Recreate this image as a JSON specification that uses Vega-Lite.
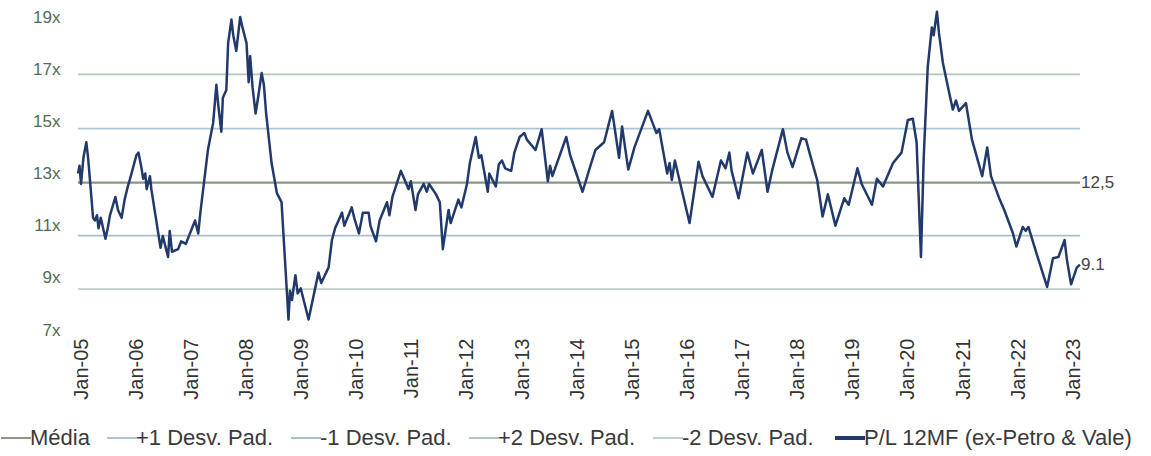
{
  "$schema": "https://vega.github.io/schema/vega-lite/v6.json",
  "width": 1002,
  "height": 313,
  "autosize": "none",
  "padding": {"left": 78, "top": 17, "right": 71, "bottom": 126},
  "background": "white",
  "config": {
    "view": {"stroke": null},
    "font": "Liberation Sans",
    "legend": {
      "orient": "none",
      "legendX": -73,
      "legendY": 410,
      "direction": "horizontal",
      "symbolType": "stroke",
      "symbolSize": 900,
      "symbolStrokeWidth": 2,
      "labelFont": "Liberation Sans",
      "labelFontSize": 22,
      "labelColor": "#3a3a3a",
      "labelOffset": 3,
      "labelLimit": 500,
      "columnPadding": 13,
      "title": null
    }
  },
  "datasets": {
    "bands": [
      {"series": "Média", "date": "2004-12-10", "value": 12.65},
      {"series": "Média", "date": "2023-02-15", "value": 12.65},
      {"series": "+1 Desv. Pad.", "date": "2004-12-10", "value": 14.72},
      {"series": "+1 Desv. Pad.", "date": "2023-02-15", "value": 14.72},
      {"series": "-1 Desv. Pad.", "date": "2004-12-10", "value": 10.62},
      {"series": "-1 Desv. Pad.", "date": "2023-02-15", "value": 10.62},
      {"series": "+2 Desv. Pad.", "date": "2004-12-10", "value": 16.8},
      {"series": "+2 Desv. Pad.", "date": "2023-02-15", "value": 16.8},
      {"series": "-2 Desv. Pad.", "date": "2004-12-10", "value": 8.57},
      {"series": "-2 Desv. Pad.", "date": "2023-02-15", "value": 8.57}
    ],
    "labels": [
      {"date": "2023-02-15", "value": 12.65, "text": "12,5"},
      {"date": "2023-02-15", "value": 9.5, "text": "9.1"}
    ],
    "pl": [
      {"series": "P/L 12MF (ex-Petro & Vale)", "date": "2004-12-10", "value": 13.0},
      {"series": "P/L 12MF (ex-Petro & Vale)", "date": "2004-12-20", "value": 13.3},
      {"series": "P/L 12MF (ex-Petro & Vale)", "date": "2004-12-30", "value": 12.6},
      {"series": "P/L 12MF (ex-Petro & Vale)", "date": "2005-01-15", "value": 13.6},
      {"series": "P/L 12MF (ex-Petro & Vale)", "date": "2005-02-03", "value": 14.2},
      {"series": "P/L 12MF (ex-Petro & Vale)", "date": "2005-02-15", "value": 13.6},
      {"series": "P/L 12MF (ex-Petro & Vale)", "date": "2005-03-20", "value": 11.3},
      {"series": "P/L 12MF (ex-Petro & Vale)", "date": "2005-04-01", "value": 11.2},
      {"series": "P/L 12MF (ex-Petro & Vale)", "date": "2005-04-15", "value": 11.4},
      {"series": "P/L 12MF (ex-Petro & Vale)", "date": "2005-04-25", "value": 10.9},
      {"series": "P/L 12MF (ex-Petro & Vale)", "date": "2005-05-10", "value": 11.3},
      {"series": "P/L 12MF (ex-Petro & Vale)", "date": "2005-06-10", "value": 10.5},
      {"series": "P/L 12MF (ex-Petro & Vale)", "date": "2005-06-25", "value": 10.9},
      {"series": "P/L 12MF (ex-Petro & Vale)", "date": "2005-07-10", "value": 11.4},
      {"series": "P/L 12MF (ex-Petro & Vale)", "date": "2005-08-15", "value": 12.1},
      {"series": "P/L 12MF (ex-Petro & Vale)", "date": "2005-09-01", "value": 11.6},
      {"series": "P/L 12MF (ex-Petro & Vale)", "date": "2005-09-25", "value": 11.3},
      {"series": "P/L 12MF (ex-Petro & Vale)", "date": "2005-10-15", "value": 12.0},
      {"series": "P/L 12MF (ex-Petro & Vale)", "date": "2005-11-05", "value": 12.5},
      {"series": "P/L 12MF (ex-Petro & Vale)", "date": "2005-11-25", "value": 12.9},
      {"series": "P/L 12MF (ex-Petro & Vale)", "date": "2006-01-01", "value": 13.7},
      {"series": "P/L 12MF (ex-Petro & Vale)", "date": "2006-01-15", "value": 13.8},
      {"series": "P/L 12MF (ex-Petro & Vale)", "date": "2006-02-01", "value": 13.3},
      {"series": "P/L 12MF (ex-Petro & Vale)", "date": "2006-02-15", "value": 12.8},
      {"series": "P/L 12MF (ex-Petro & Vale)", "date": "2006-03-01", "value": 13.0},
      {"series": "P/L 12MF (ex-Petro & Vale)", "date": "2006-03-10", "value": 12.4},
      {"series": "P/L 12MF (ex-Petro & Vale)", "date": "2006-04-01", "value": 12.9},
      {"series": "P/L 12MF (ex-Petro & Vale)", "date": "2006-04-10", "value": 12.4},
      {"series": "P/L 12MF (ex-Petro & Vale)", "date": "2006-05-10", "value": 11.3},
      {"series": "P/L 12MF (ex-Petro & Vale)", "date": "2006-06-10", "value": 10.15},
      {"series": "P/L 12MF (ex-Petro & Vale)", "date": "2006-06-25", "value": 10.6},
      {"series": "P/L 12MF (ex-Petro & Vale)", "date": "2006-07-30", "value": 9.8},
      {"series": "P/L 12MF (ex-Petro & Vale)", "date": "2006-08-10", "value": 10.8},
      {"series": "P/L 12MF (ex-Petro & Vale)", "date": "2006-08-25", "value": 10.0},
      {"series": "P/L 12MF (ex-Petro & Vale)", "date": "2006-10-05", "value": 10.1},
      {"series": "P/L 12MF (ex-Petro & Vale)", "date": "2006-10-25", "value": 10.4},
      {"series": "P/L 12MF (ex-Petro & Vale)", "date": "2006-11-25", "value": 10.3},
      {"series": "P/L 12MF (ex-Petro & Vale)", "date": "2006-12-15", "value": 10.6},
      {"series": "P/L 12MF (ex-Petro & Vale)", "date": "2007-01-25", "value": 11.2},
      {"series": "P/L 12MF (ex-Petro & Vale)", "date": "2007-02-15", "value": 10.7},
      {"series": "P/L 12MF (ex-Petro & Vale)", "date": "2007-03-01", "value": 11.5},
      {"series": "P/L 12MF (ex-Petro & Vale)", "date": "2007-04-20", "value": 13.9},
      {"series": "P/L 12MF (ex-Petro & Vale)", "date": "2007-05-25", "value": 14.95},
      {"series": "P/L 12MF (ex-Petro & Vale)", "date": "2007-06-15", "value": 16.4},
      {"series": "P/L 12MF (ex-Petro & Vale)", "date": "2007-06-28", "value": 15.6},
      {"series": "P/L 12MF (ex-Petro & Vale)", "date": "2007-07-18", "value": 14.6},
      {"series": "P/L 12MF (ex-Petro & Vale)", "date": "2007-07-28", "value": 15.9},
      {"series": "P/L 12MF (ex-Petro & Vale)", "date": "2007-08-20", "value": 16.2},
      {"series": "P/L 12MF (ex-Petro & Vale)", "date": "2007-09-01", "value": 18.0},
      {"series": "P/L 12MF (ex-Petro & Vale)", "date": "2007-09-23", "value": 18.9},
      {"series": "P/L 12MF (ex-Petro & Vale)", "date": "2007-10-05", "value": 18.3},
      {"series": "P/L 12MF (ex-Petro & Vale)", "date": "2007-10-25", "value": 17.7},
      {"series": "P/L 12MF (ex-Petro & Vale)", "date": "2007-11-20", "value": 19.0},
      {"series": "P/L 12MF (ex-Petro & Vale)", "date": "2007-12-05", "value": 18.6},
      {"series": "P/L 12MF (ex-Petro & Vale)", "date": "2008-01-01", "value": 18.0},
      {"series": "P/L 12MF (ex-Petro & Vale)", "date": "2008-01-15", "value": 16.5},
      {"series": "P/L 12MF (ex-Petro & Vale)", "date": "2008-01-25", "value": 17.5},
      {"series": "P/L 12MF (ex-Petro & Vale)", "date": "2008-02-10", "value": 16.3},
      {"series": "P/L 12MF (ex-Petro & Vale)", "date": "2008-03-01", "value": 15.3},
      {"series": "P/L 12MF (ex-Petro & Vale)", "date": "2008-03-20", "value": 16.0},
      {"series": "P/L 12MF (ex-Petro & Vale)", "date": "2008-04-10", "value": 16.85},
      {"series": "P/L 12MF (ex-Petro & Vale)", "date": "2008-04-25", "value": 16.4},
      {"series": "P/L 12MF (ex-Petro & Vale)", "date": "2008-05-10", "value": 15.3},
      {"series": "P/L 12MF (ex-Petro & Vale)", "date": "2008-06-15", "value": 13.4},
      {"series": "P/L 12MF (ex-Petro & Vale)", "date": "2008-07-20", "value": 12.25},
      {"series": "P/L 12MF (ex-Petro & Vale)", "date": "2008-08-20", "value": 11.9},
      {"series": "P/L 12MF (ex-Petro & Vale)", "date": "2008-09-25", "value": 8.4},
      {"series": "P/L 12MF (ex-Petro & Vale)", "date": "2008-10-05", "value": 7.4},
      {"series": "P/L 12MF (ex-Petro & Vale)", "date": "2008-10-15", "value": 8.5},
      {"series": "P/L 12MF (ex-Petro & Vale)", "date": "2008-10-28", "value": 8.15},
      {"series": "P/L 12MF (ex-Petro & Vale)", "date": "2008-11-20", "value": 9.1},
      {"series": "P/L 12MF (ex-Petro & Vale)", "date": "2008-12-05", "value": 8.4},
      {"series": "P/L 12MF (ex-Petro & Vale)", "date": "2008-12-25", "value": 8.6},
      {"series": "P/L 12MF (ex-Petro & Vale)", "date": "2009-02-15", "value": 7.4},
      {"series": "P/L 12MF (ex-Petro & Vale)", "date": "2009-04-22", "value": 9.2},
      {"series": "P/L 12MF (ex-Petro & Vale)", "date": "2009-05-10", "value": 8.8},
      {"series": "P/L 12MF (ex-Petro & Vale)", "date": "2009-06-28", "value": 9.4},
      {"series": "P/L 12MF (ex-Petro & Vale)", "date": "2009-07-20", "value": 10.45},
      {"series": "P/L 12MF (ex-Petro & Vale)", "date": "2009-08-10", "value": 10.9},
      {"series": "P/L 12MF (ex-Petro & Vale)", "date": "2009-09-25", "value": 11.5},
      {"series": "P/L 12MF (ex-Petro & Vale)", "date": "2009-10-10", "value": 11.0},
      {"series": "P/L 12MF (ex-Petro & Vale)", "date": "2009-11-28", "value": 11.7},
      {"series": "P/L 12MF (ex-Petro & Vale)", "date": "2009-12-15", "value": 11.3},
      {"series": "P/L 12MF (ex-Petro & Vale)", "date": "2010-01-15", "value": 10.7},
      {"series": "P/L 12MF (ex-Petro & Vale)", "date": "2010-02-10", "value": 11.5},
      {"series": "P/L 12MF (ex-Petro & Vale)", "date": "2010-03-20", "value": 11.5},
      {"series": "P/L 12MF (ex-Petro & Vale)", "date": "2010-04-01", "value": 11.0},
      {"series": "P/L 12MF (ex-Petro & Vale)", "date": "2010-05-08", "value": 10.4},
      {"series": "P/L 12MF (ex-Petro & Vale)", "date": "2010-06-01", "value": 11.2},
      {"series": "P/L 12MF (ex-Petro & Vale)", "date": "2010-07-20", "value": 11.9},
      {"series": "P/L 12MF (ex-Petro & Vale)", "date": "2010-08-05", "value": 11.4},
      {"series": "P/L 12MF (ex-Petro & Vale)", "date": "2010-08-25", "value": 12.1},
      {"series": "P/L 12MF (ex-Petro & Vale)", "date": "2010-10-20", "value": 13.1},
      {"series": "P/L 12MF (ex-Petro & Vale)", "date": "2010-12-10", "value": 12.4},
      {"series": "P/L 12MF (ex-Petro & Vale)", "date": "2010-12-25", "value": 12.7},
      {"series": "P/L 12MF (ex-Petro & Vale)", "date": "2011-01-25", "value": 11.6},
      {"series": "P/L 12MF (ex-Petro & Vale)", "date": "2011-02-10", "value": 12.2},
      {"series": "P/L 12MF (ex-Petro & Vale)", "date": "2011-03-20", "value": 12.6},
      {"series": "P/L 12MF (ex-Petro & Vale)", "date": "2011-04-10", "value": 12.3},
      {"series": "P/L 12MF (ex-Petro & Vale)", "date": "2011-04-25", "value": 12.6},
      {"series": "P/L 12MF (ex-Petro & Vale)", "date": "2011-06-10", "value": 12.2},
      {"series": "P/L 12MF (ex-Petro & Vale)", "date": "2011-07-05", "value": 11.9},
      {"series": "P/L 12MF (ex-Petro & Vale)", "date": "2011-07-25", "value": 10.1},
      {"series": "P/L 12MF (ex-Petro & Vale)", "date": "2011-09-01", "value": 11.6},
      {"series": "P/L 12MF (ex-Petro & Vale)", "date": "2011-09-15", "value": 11.1},
      {"series": "P/L 12MF (ex-Petro & Vale)", "date": "2011-11-05", "value": 12.0},
      {"series": "P/L 12MF (ex-Petro & Vale)", "date": "2011-11-25", "value": 11.7},
      {"series": "P/L 12MF (ex-Petro & Vale)", "date": "2012-01-01", "value": 12.6},
      {"series": "P/L 12MF (ex-Petro & Vale)", "date": "2012-01-20", "value": 13.4},
      {"series": "P/L 12MF (ex-Petro & Vale)", "date": "2012-02-28", "value": 14.4},
      {"series": "P/L 12MF (ex-Petro & Vale)", "date": "2012-03-20", "value": 13.6},
      {"series": "P/L 12MF (ex-Petro & Vale)", "date": "2012-04-05", "value": 13.7},
      {"series": "P/L 12MF (ex-Petro & Vale)", "date": "2012-05-18", "value": 12.3},
      {"series": "P/L 12MF (ex-Petro & Vale)", "date": "2012-05-28", "value": 13.0},
      {"series": "P/L 12MF (ex-Petro & Vale)", "date": "2012-07-10", "value": 12.5},
      {"series": "P/L 12MF (ex-Petro & Vale)", "date": "2012-07-30", "value": 13.35},
      {"series": "P/L 12MF (ex-Petro & Vale)", "date": "2012-08-20", "value": 13.5},
      {"series": "P/L 12MF (ex-Petro & Vale)", "date": "2012-09-10", "value": 13.2},
      {"series": "P/L 12MF (ex-Petro & Vale)", "date": "2012-10-20", "value": 13.1},
      {"series": "P/L 12MF (ex-Petro & Vale)", "date": "2012-11-10", "value": 13.8},
      {"series": "P/L 12MF (ex-Petro & Vale)", "date": "2012-12-15", "value": 14.4},
      {"series": "P/L 12MF (ex-Petro & Vale)", "date": "2013-01-15", "value": 14.55},
      {"series": "P/L 12MF (ex-Petro & Vale)", "date": "2013-02-01", "value": 14.3},
      {"series": "P/L 12MF (ex-Petro & Vale)", "date": "2013-03-30", "value": 13.9},
      {"series": "P/L 12MF (ex-Petro & Vale)", "date": "2013-05-10", "value": 14.7},
      {"series": "P/L 12MF (ex-Petro & Vale)", "date": "2013-06-20", "value": 12.7},
      {"series": "P/L 12MF (ex-Petro & Vale)", "date": "2013-07-05", "value": 13.3},
      {"series": "P/L 12MF (ex-Petro & Vale)", "date": "2013-07-20", "value": 12.9},
      {"series": "P/L 12MF (ex-Petro & Vale)", "date": "2013-10-20", "value": 14.4},
      {"series": "P/L 12MF (ex-Petro & Vale)", "date": "2013-11-15", "value": 13.7},
      {"series": "P/L 12MF (ex-Petro & Vale)", "date": "2014-02-05", "value": 12.3},
      {"series": "P/L 12MF (ex-Petro & Vale)", "date": "2014-04-01", "value": 13.35},
      {"series": "P/L 12MF (ex-Petro & Vale)", "date": "2014-05-01", "value": 13.9},
      {"series": "P/L 12MF (ex-Petro & Vale)", "date": "2014-06-28", "value": 14.2},
      {"series": "P/L 12MF (ex-Petro & Vale)", "date": "2014-08-20", "value": 15.4},
      {"series": "P/L 12MF (ex-Petro & Vale)", "date": "2014-10-05", "value": 13.6},
      {"series": "P/L 12MF (ex-Petro & Vale)", "date": "2014-10-25", "value": 14.8},
      {"series": "P/L 12MF (ex-Petro & Vale)", "date": "2014-12-05", "value": 13.15},
      {"series": "P/L 12MF (ex-Petro & Vale)", "date": "2015-01-15", "value": 14.0},
      {"series": "P/L 12MF (ex-Petro & Vale)", "date": "2015-04-15", "value": 15.4},
      {"series": "P/L 12MF (ex-Petro & Vale)", "date": "2015-06-10", "value": 14.55},
      {"series": "P/L 12MF (ex-Petro & Vale)", "date": "2015-06-28", "value": 14.7},
      {"series": "P/L 12MF (ex-Petro & Vale)", "date": "2015-08-20", "value": 13.0},
      {"series": "P/L 12MF (ex-Petro & Vale)", "date": "2015-09-05", "value": 13.4},
      {"series": "P/L 12MF (ex-Petro & Vale)", "date": "2015-09-20", "value": 12.75},
      {"series": "P/L 12MF (ex-Petro & Vale)", "date": "2015-10-10", "value": 13.5},
      {"series": "P/L 12MF (ex-Petro & Vale)", "date": "2016-01-15", "value": 11.1},
      {"series": "P/L 12MF (ex-Petro & Vale)", "date": "2016-03-15", "value": 13.45},
      {"series": "P/L 12MF (ex-Petro & Vale)", "date": "2016-04-10", "value": 12.9},
      {"series": "P/L 12MF (ex-Petro & Vale)", "date": "2016-06-15", "value": 12.1},
      {"series": "P/L 12MF (ex-Petro & Vale)", "date": "2016-08-10", "value": 13.5},
      {"series": "P/L 12MF (ex-Petro & Vale)", "date": "2016-09-10", "value": 13.2},
      {"series": "P/L 12MF (ex-Petro & Vale)", "date": "2016-10-05", "value": 13.8},
      {"series": "P/L 12MF (ex-Petro & Vale)", "date": "2016-10-20", "value": 13.1},
      {"series": "P/L 12MF (ex-Petro & Vale)", "date": "2016-12-05", "value": 12.05},
      {"series": "P/L 12MF (ex-Petro & Vale)", "date": "2017-02-01", "value": 13.8},
      {"series": "P/L 12MF (ex-Petro & Vale)", "date": "2017-03-10", "value": 13.0},
      {"series": "P/L 12MF (ex-Petro & Vale)", "date": "2017-05-08", "value": 13.9},
      {"series": "P/L 12MF (ex-Petro & Vale)", "date": "2017-06-15", "value": 12.3},
      {"series": "P/L 12MF (ex-Petro & Vale)", "date": "2017-07-15", "value": 13.1},
      {"series": "P/L 12MF (ex-Petro & Vale)", "date": "2017-09-25", "value": 14.7},
      {"series": "P/L 12MF (ex-Petro & Vale)", "date": "2017-10-25", "value": 13.8},
      {"series": "P/L 12MF (ex-Petro & Vale)", "date": "2017-11-28", "value": 13.25},
      {"series": "P/L 12MF (ex-Petro & Vale)", "date": "2018-01-25", "value": 14.35},
      {"series": "P/L 12MF (ex-Petro & Vale)", "date": "2018-02-25", "value": 14.3},
      {"series": "P/L 12MF (ex-Petro & Vale)", "date": "2018-03-20", "value": 13.8},
      {"series": "P/L 12MF (ex-Petro & Vale)", "date": "2018-05-10", "value": 12.75},
      {"series": "P/L 12MF (ex-Petro & Vale)", "date": "2018-06-15", "value": 11.35},
      {"series": "P/L 12MF (ex-Petro & Vale)", "date": "2018-07-20", "value": 12.2},
      {"series": "P/L 12MF (ex-Petro & Vale)", "date": "2018-09-08", "value": 11.0},
      {"series": "P/L 12MF (ex-Petro & Vale)", "date": "2018-11-05", "value": 12.05},
      {"series": "P/L 12MF (ex-Petro & Vale)", "date": "2018-12-05", "value": 11.8},
      {"series": "P/L 12MF (ex-Petro & Vale)", "date": "2019-02-01", "value": 13.2},
      {"series": "P/L 12MF (ex-Petro & Vale)", "date": "2019-03-01", "value": 12.6},
      {"series": "P/L 12MF (ex-Petro & Vale)", "date": "2019-05-08", "value": 11.8},
      {"series": "P/L 12MF (ex-Petro & Vale)", "date": "2019-06-10", "value": 12.8},
      {"series": "P/L 12MF (ex-Petro & Vale)", "date": "2019-07-20", "value": 12.5},
      {"series": "P/L 12MF (ex-Petro & Vale)", "date": "2019-09-25", "value": 13.4},
      {"series": "P/L 12MF (ex-Petro & Vale)", "date": "2019-11-20", "value": 13.8},
      {"series": "P/L 12MF (ex-Petro & Vale)", "date": "2020-01-01", "value": 15.05},
      {"series": "P/L 12MF (ex-Petro & Vale)", "date": "2020-02-03", "value": 15.1},
      {"series": "P/L 12MF (ex-Petro & Vale)", "date": "2020-02-28", "value": 14.2},
      {"series": "P/L 12MF (ex-Petro & Vale)", "date": "2020-03-28", "value": 9.8},
      {"series": "P/L 12MF (ex-Petro & Vale)", "date": "2020-04-15", "value": 13.6},
      {"series": "P/L 12MF (ex-Petro & Vale)", "date": "2020-05-12", "value": 17.1},
      {"series": "P/L 12MF (ex-Petro & Vale)", "date": "2020-06-08", "value": 18.6},
      {"series": "P/L 12MF (ex-Petro & Vale)", "date": "2020-06-20", "value": 18.3},
      {"series": "P/L 12MF (ex-Petro & Vale)", "date": "2020-07-12", "value": 19.2},
      {"series": "P/L 12MF (ex-Petro & Vale)", "date": "2020-07-25", "value": 18.4},
      {"series": "P/L 12MF (ex-Petro & Vale)", "date": "2020-08-20", "value": 17.25},
      {"series": "P/L 12MF (ex-Petro & Vale)", "date": "2020-10-01", "value": 16.1},
      {"series": "P/L 12MF (ex-Petro & Vale)", "date": "2020-10-25", "value": 15.45},
      {"series": "P/L 12MF (ex-Petro & Vale)", "date": "2020-11-15", "value": 15.8},
      {"series": "P/L 12MF (ex-Petro & Vale)", "date": "2020-12-05", "value": 15.4},
      {"series": "P/L 12MF (ex-Petro & Vale)", "date": "2021-01-20", "value": 15.7},
      {"series": "P/L 12MF (ex-Petro & Vale)", "date": "2021-03-01", "value": 14.3},
      {"series": "P/L 12MF (ex-Petro & Vale)", "date": "2021-05-08", "value": 12.9},
      {"series": "P/L 12MF (ex-Petro & Vale)", "date": "2021-06-10", "value": 14.0},
      {"series": "P/L 12MF (ex-Petro & Vale)", "date": "2021-07-05", "value": 12.9},
      {"series": "P/L 12MF (ex-Petro & Vale)", "date": "2021-09-01", "value": 12.0},
      {"series": "P/L 12MF (ex-Petro & Vale)", "date": "2021-10-01", "value": 11.6},
      {"series": "P/L 12MF (ex-Petro & Vale)", "date": "2021-11-28", "value": 10.7},
      {"series": "P/L 12MF (ex-Petro & Vale)", "date": "2021-12-20", "value": 10.2},
      {"series": "P/L 12MF (ex-Petro & Vale)", "date": "2022-02-01", "value": 10.95},
      {"series": "P/L 12MF (ex-Petro & Vale)", "date": "2022-02-20", "value": 10.8},
      {"series": "P/L 12MF (ex-Petro & Vale)", "date": "2022-03-10", "value": 10.95},
      {"series": "P/L 12MF (ex-Petro & Vale)", "date": "2022-05-10", "value": 9.8},
      {"series": "P/L 12MF (ex-Petro & Vale)", "date": "2022-07-12", "value": 8.65},
      {"series": "P/L 12MF (ex-Petro & Vale)", "date": "2022-08-20", "value": 9.75},
      {"series": "P/L 12MF (ex-Petro & Vale)", "date": "2022-09-25", "value": 9.8},
      {"series": "P/L 12MF (ex-Petro & Vale)", "date": "2022-11-05", "value": 10.45},
      {"series": "P/L 12MF (ex-Petro & Vale)", "date": "2022-11-20", "value": 9.7},
      {"series": "P/L 12MF (ex-Petro & Vale)", "date": "2022-12-18", "value": 8.75},
      {"series": "P/L 12MF (ex-Petro & Vale)", "date": "2023-01-25", "value": 9.4},
      {"series": "P/L 12MF (ex-Petro & Vale)", "date": "2023-02-15", "value": 9.5}
    ]
  },
  "encoding": {
    "x": {
      "field": "date",
      "type": "temporal",
      "scale": {"domain": ["2004-12-10", "2023-02-15"]},
      "axis": {
        "title": null,
        "format": "%b-%y",
        "values": [
          {"year": 2005, "month": 1, "date": 1}, {"year": 2006, "month": 1, "date": 1},
          {"year": 2007, "month": 1, "date": 1}, {"year": 2008, "month": 1, "date": 1},
          {"year": 2009, "month": 1, "date": 1}, {"year": 2010, "month": 1, "date": 1},
          {"year": 2011, "month": 1, "date": 1}, {"year": 2012, "month": 1, "date": 1},
          {"year": 2013, "month": 1, "date": 1}, {"year": 2014, "month": 1, "date": 1},
          {"year": 2015, "month": 1, "date": 1}, {"year": 2016, "month": 1, "date": 1},
          {"year": 2017, "month": 1, "date": 1}, {"year": 2018, "month": 1, "date": 1},
          {"year": 2019, "month": 1, "date": 1}, {"year": 2020, "month": 1, "date": 1},
          {"year": 2021, "month": 1, "date": 1}, {"year": 2022, "month": 1, "date": 1},
          {"year": 2023, "month": 1, "date": 1}
        ],
        "labelAngle": -90,
        "labelFont": "Liberation Sans",
        "labelFontSize": 20,
        "labelColor": "#333333",
        "labelPadding": 8,
        "labelFlush": false,
        "labelOverlap": false,
        "domain": false,
        "ticks": false,
        "grid": false
      }
    },
    "y": {
      "field": "value",
      "type": "quantitative",
      "scale": {"domain": [7, 19], "nice": false, "zero": false},
      "axis": {
        "title": null,
        "values": [7, 9, 11, 13, 15, 17, 19],
        "labelExpr": "datum.value + 'x'",
        "labelFont": "Liberation Sans",
        "labelFontSize": 17,
        "labelColor": "#4f6d5b",
        "labelPadding": 18,
        "domain": false,
        "ticks": false,
        "grid": false
      }
    }
  },
  "layer": [
    {
      "data": {"name": "bands"},
      "mark": {"type": "line", "clip": false},
      "encoding": {
        "color": {
          "field": "series",
          "type": "nominal",
          "scale": {
            "domain": ["Média", "+1 Desv. Pad.", "-1 Desv. Pad.", "+2 Desv. Pad.", "-2 Desv. Pad.", "P/L 12MF (ex-Petro & Vale)"],
            "range": ["#8a9784", "#aac6d4", "#a9c0c9", "#b2c6b3", "#bfd1c6", "#223a6b"]
          },
          "legend": {
            "title": null,
            "encode": {
              "symbols": {
                "update": {
                  "strokeWidth": {"signal": "datum.label === 'P/L 12MF (ex-Petro & Vale)' ? 4 : 2"}
                }
              }
            }
          }
        },
        "strokeWidth": {
          "field": "series",
          "type": "nominal",
          "scale": {
            "type": "ordinal",
            "domain": ["Média", "+1 Desv. Pad.", "-1 Desv. Pad.", "+2 Desv. Pad.", "-2 Desv. Pad.", "P/L 12MF (ex-Petro & Vale)"],
            "range": [2.2, 1.8, 1.8, 1.8, 1.8, 3.6]
          },
          "legend": null
        }
      }
    },
    {
      "data": {"name": "pl"},
      "mark": {"type": "line", "strokeJoin": "round", "clip": false},
      "encoding": {
        "color": {"field": "series", "type": "nominal"},
        "strokeWidth": {"field": "series", "type": "nominal", "legend": null}
      }
    },
    {
      "data": {"name": "labels"},
      "mark": {"type": "text", "align": "left", "baseline": "middle", "dx": 1, "font": "Liberation Sans", "fontSize": 17, "color": "#444444"},
      "encoding": {"text": {"field": "text", "type": "nominal"}}
    }
  ]
}
